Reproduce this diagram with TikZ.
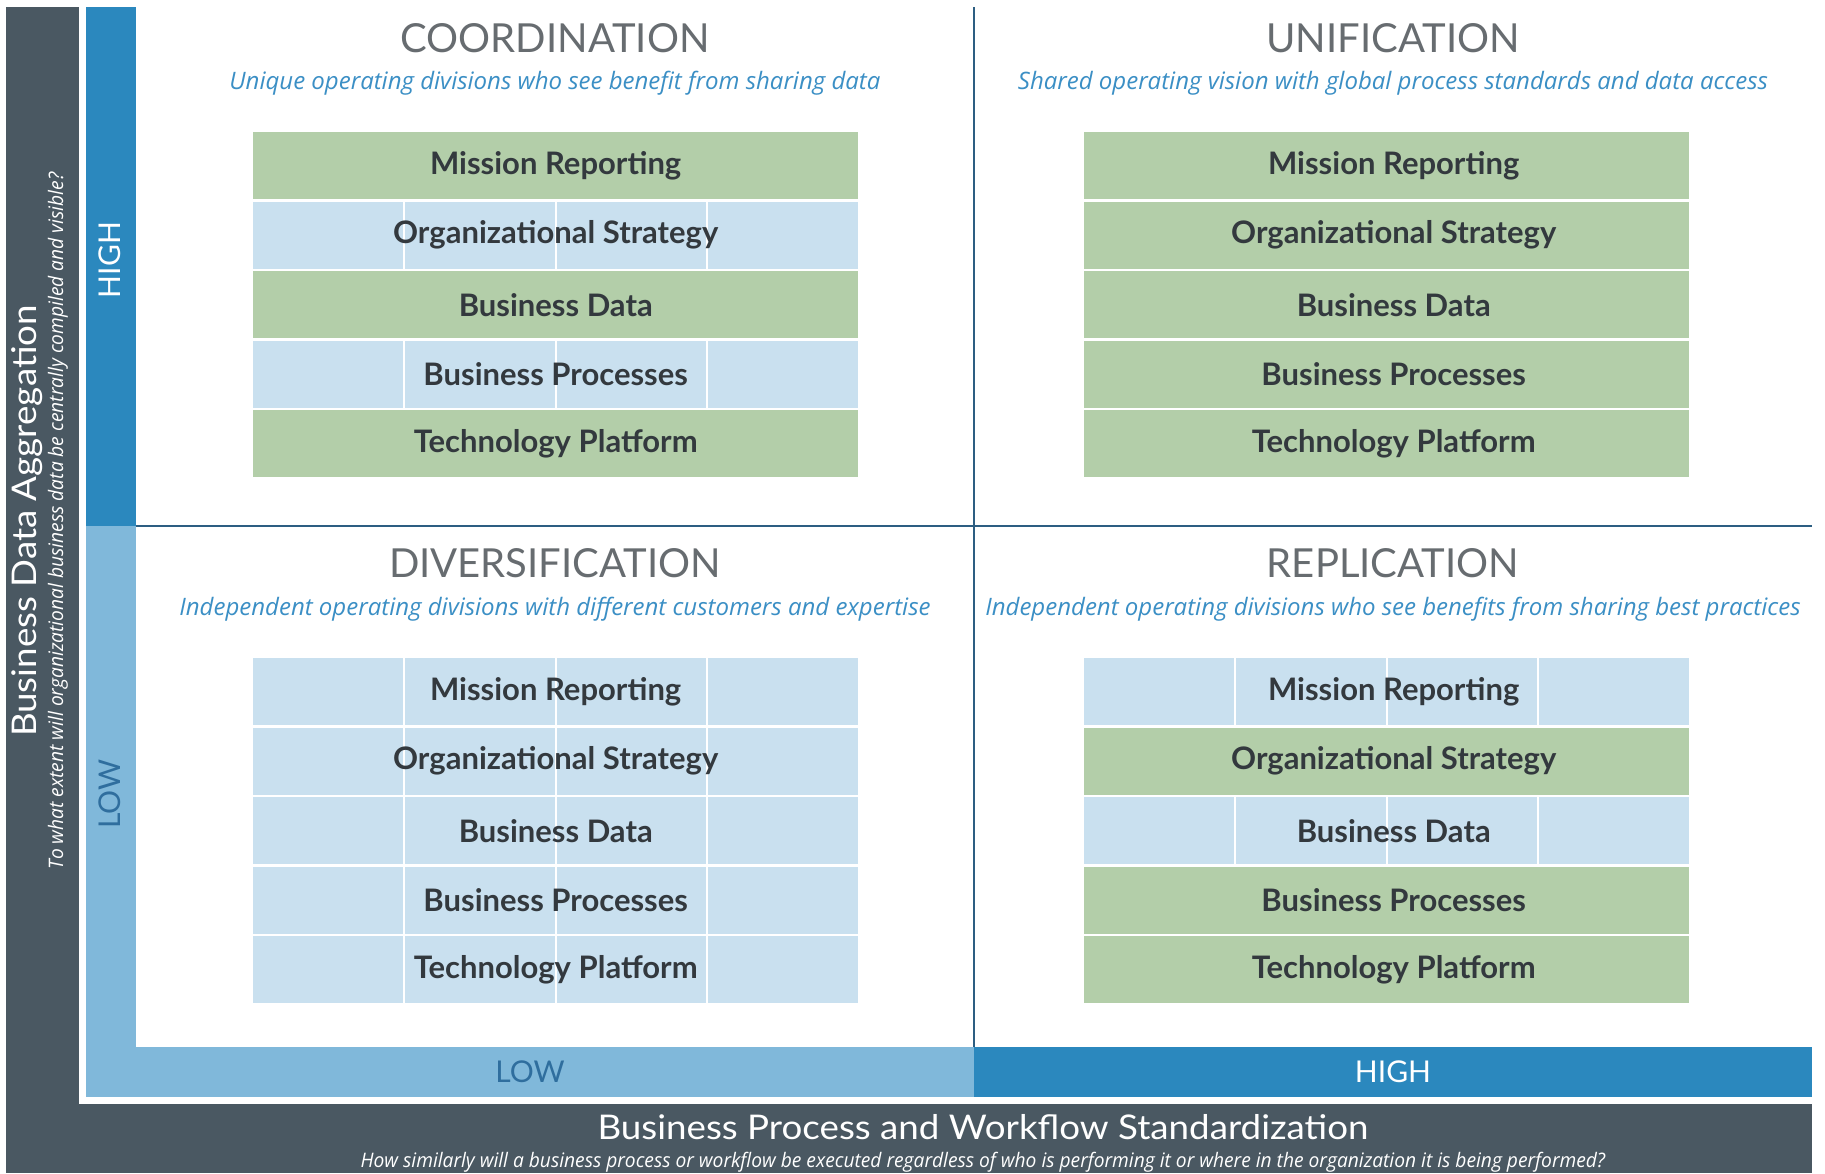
\documentclass[tikz,border=0pt]{standalone}
\usepackage{fontspec}
\setmainfont{Lato}
\newfontfamily\boxfont{Lato}
\newfontfamily\titlefont{Lato}
\newfontfamily\subfont{Open Sans}
\newfontfamily\axisfont{Lato}[FakeStretch=1.08]
\newfontfamily\levelfont{Lato}
\newfontfamily\axissubfont{Open Sans}[FakeStretch=0.96]
\usetikzlibrary{calc}
\definecolor{cdark}{HTML}{4A5862}
\definecolor{chigh}{HTML}{2B88BE}
\definecolor{clow}{HTML}{80B8DA}
\definecolor{cline}{HTML}{2D5E82}
\definecolor{cgreen}{HTML}{B3CEA9}
\definecolor{cblue}{HTML}{C9E0EF}
\definecolor{ctext}{HTML}{33393E}
\definecolor{ctitle}{HTML}{676C70}
\definecolor{csub}{HTML}{3B8FC5}
\definecolor{clowtext}{HTML}{2F6E9E}
\begin{document}
\begin{tikzpicture}[x=1pt,y=-1pt,
  rowbox/.style={minimum width=605pt, minimum height=67pt, inner sep=0pt, anchor=north west,
    font=\boxfont\bfseries\fontsize{31}{31}\selectfont, text=ctext},
  rowG/.style={rowbox, fill=cgreen},
  rowB/.style={rowbox, fill=cblue, path picture={
    \foreach \f in {0.25,0.5,0.75}{
      \draw[white, line width=2pt]
        ($(path picture bounding box.north west)!\f!(path picture bounding box.north east)$) --
        ($(path picture bounding box.south west)!\f!(path picture bounding box.south east)$);}}},
  qtitle/.style={font=\titlefont\fontsize{40}{40}\selectfont, text=ctitle, inner sep=0pt, anchor=base},
  qsub/.style={font=\subfont\itshape\fontsize{24}{24}\selectfont, text=csub, inner sep=0pt, anchor=base},
  axtitle/.style={font=\axisfont\fontsize{34}{34}\selectfont, text=white, inner sep=0pt},
  axsub/.style={font=\axissubfont\itshape\fontsize{20}{20}\selectfont, text=white, inner sep=0pt},
  level/.style={font=\levelfont\fontsize{30}{30}\selectfont, inner sep=0pt},
  qline/.style={draw=cline, line width=2.5pt}
]
\newcommand\rs[1]{\hspace*{14pt}#1}
\useasboundingbox (0,0) rectangle (1825,1173);
\fill[white] (0,0) rectangle (1825,1173);
% axis bars
\fill[cdark] (6,7) rectangle (79,1173);
\fill[cdark] (79,1104) rectangle (1812,1173);
\fill[chigh] (86,7) rectangle (136,526);
\fill[clow] (86,526) rectangle (136,1097);
\fill[clow] (86,1047) rectangle (974,1097);
\fill[chigh] (974,1047) rectangle (1812,1097);
% quadrant lines
\coordinate (vtop) at (974,7);
\coordinate (vbot) at (974,1047);
\coordinate (hl) at (136,526);
\coordinate (hr) at (1812,526);
\draw[qline] (vtop) -- (vbot);
\draw[qline] (hl) -- (hr);
% axis labels
\node[axtitle, rotate=90] (ytitle) at (27,521) {Business Data Aggregation};
\node[axsub, rotate=90] (ysub) at (58,521) {To what extent will organizational business data be centrally compiled and visible?};
\node[level, rotate=90, text=white] (yhigh) at (110,260) {HIGH};
\node[level, rotate=90, text=clowtext] (ylow) at (110,794) {LOW};
\node[level, text=clowtext] (xlow) at (530,1072) {LOW};
\node[level, text=white] (xhigh) at (1393,1072) {HIGH};
\node[axtitle] (xtitle) at (983,1127) {Business Process and Workflow Standardization};
\node[axsub] (xsub) at (983,1162) {How similarly will a business process or workflow be executed regardless of who is performing it or where in the organization it is being performed?};
% quadrant titles
\node[qtitle] (t1) at (555,52) {COORDINATION};
\node[qsub] (s1) at (555,89) {Unique operating divisions who see benefit from sharing data};
\node[qtitle] (t2) at (1393,52) {UNIFICATION};
\node[qsub] (s2) at (1393,89) {Shared operating vision with global process standards and data access};
\node[qtitle] (t3) at (555,577) {DIVERSIFICATION};
\node[qsub] (s3) at (555,615) {Independent operating divisions with different customers and expertise};
\node[qtitle] (t4) at (1393,577) {REPLICATION};
\node[qsub] (s4) at (1393,615) {Independent operating divisions who see benefits from sharing best practices};
% Coordination stack
\node[rowG] (a1) at (253,132) {Mission Reporting};
\node[rowB] (a2) at (253,201.5) {Organizational Strategy};
\node[rowG] (a3) at (253,271) {Business Data};
\node[rowB] (a4) at (253,340.5) {Business Processes};
\node[rowG] (a5) at (253,410) {Technology Platform};
% Unification stack
\node[rowG] (b1) at (1084,132) {\rs{Mission Reporting}};
\node[rowG] (b2) at (1084,201.5) {\rs{Organizational Strategy}};
\node[rowG] (b3) at (1084,271) {\rs{Business Data}};
\node[rowG] (b4) at (1084,340.5) {\rs{Business Processes}};
\node[rowG] (b5) at (1084,410) {\rs{Technology Platform}};
% Diversification stack
\node[rowB] (c1) at (253,658) {Mission Reporting};
\node[rowB] (c2) at (253,727.5) {Organizational Strategy};
\node[rowB] (c3) at (253,797) {Business Data};
\node[rowB] (c4) at (253,866.5) {Business Processes};
\node[rowB] (c5) at (253,936) {Technology Platform};
% Replication stack
\node[rowB] (d1) at (1084,658) {\rs{Mission Reporting}};
\node[rowG] (d2) at (1084,727.5) {\rs{Organizational Strategy}};
\node[rowB] (d3) at (1084,797) {\rs{Business Data}};
\node[rowG] (d4) at (1084,866.5) {\rs{Business Processes}};
\node[rowG] (d5) at (1084,936) {\rs{Technology Platform}};
\end{tikzpicture}
\end{document}
